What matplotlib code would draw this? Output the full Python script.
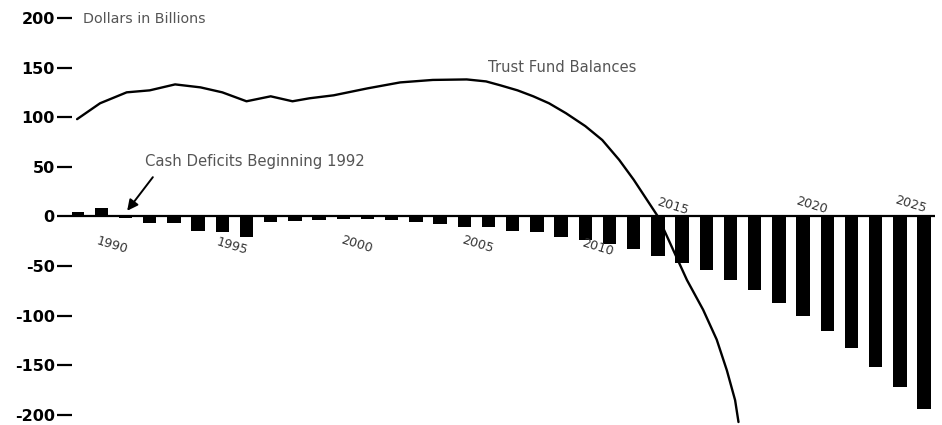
import matplotlib
matplotlib.use("Agg")
import matplotlib.pyplot as plt

# ---- data ----
years = list(range(1990, 2026))
cash_flow = [5, 9, -2, -7, -7, -15, -16, -21, -6, -5, -4, -3, -3, -4, -6, -8,
             -11, -11, -15, -16, -21, -24, -28, -33, -40, -47, -54, -64, -74,
             -87, -100, -115, -132, -152, -172, -194]

fund_years = [1990.0, 1990.95, 1992.05, 1993.0, 1994.05, 1995.1, 1996.0, 1997.0,
              1998.0, 1998.9, 1999.6, 2000.6, 2002.0, 2003.35, 2004.7, 2006.1,
              2006.9, 2007.5, 2008.2, 2008.85, 2009.5, 2010.2, 2011.0, 2011.7,
              2012.4, 2013.0, 2014.0, 2015.2, 2015.87, 2016.43, 2016.85,
              2017.19, 2017.33]
fund_balance = [98, 114, 125, 127, 133, 130, 125, 116, 121, 116, 119, 122, 129,
                135, 137.5, 138, 136, 132, 127, 121, 114, 104, 91, 77, 57, 37,
                0, -64, -94, -124, -155, -185, -207]

y_ticks = [200, 150, 100, 50, 0, -50, -100, -150, -200]
year_labels = ["1990", "1995", "2000", "2005", "2010", "2015", "2020", "2025"]
label_years = [1990, 1995, 2000, 2005, 2010, 2015, 2020, 2025]

# ---- layout ----
W, H = 942, 425
fig = plt.figure(figsize=(W / 100, H / 100), dpi=100)
ax = fig.add_axes([72 / W, 0.0, (935 - 72) / W, (425 - 12.9) / H])
ax.set_xlim(1989.79, 2025.45)
ax.set_ylim(-210, 205)

ax.bar(years, cash_flow, width=0.55, color="black", zorder=2)
ax.plot(fund_years, fund_balance, color="black", lw=1.7, zorder=3,
        solid_capstyle="round", solid_joinstyle="round")
ax.axhline(0, color="black", lw=1.6, zorder=2)

for s in ax.spines.values():
    s.set_visible(False)
ax.set_xticks([])
ax.set_yticks(y_ticks)
ax.set_yticklabels([str(v) for v in y_ticks])
ax.tick_params(axis="y", length=10.5, width=1.6, pad=2, labelsize=11.5,
               color="black")
for t in ax.get_yticklabels():
    t.set_fontweight("bold")
    t.set_family("DejaVu Sans")

# year labels (hand placed as in the original)
label_dx = [1.45, 1.41, 1.57, 1.57, 1.49, -0.41, 0.37, -0.58]
label_y = [-28.7, -29.7, -27.7, -27.7, -30.7, 10.6, 11.6, 12.6]
for lab, yr, dx, yy in zip(year_labels, label_years, label_dx, label_y):
    ax.text(yr + dx, yy, lab, rotation=-17, ha="center", va="center",
            fontsize=9.2, color="#333333", rotation_mode="anchor")

ax.text(1990.25, 199, "Dollars in Billions", fontsize=10.3, color="#555555",
        ha="left", va="center")
ax.text(2006.98, 150, "Trust Fund Balances", fontsize=10.6, color="#555555",
        ha="left", va="center")
ax.text(1992.8, 55.5, "Cash Deficits Beginning 1992", fontsize=10.7,
        color="#555555", ha="left", va="center")
ax.annotate("", xy=(1992.0, 3.5), xytext=(1993.2, 41.8),
            arrowprops=dict(arrowstyle="-|>", color="black", lw=1.4,
                            mutation_scale=16))

fig.savefig("out.png", dpi=100)
